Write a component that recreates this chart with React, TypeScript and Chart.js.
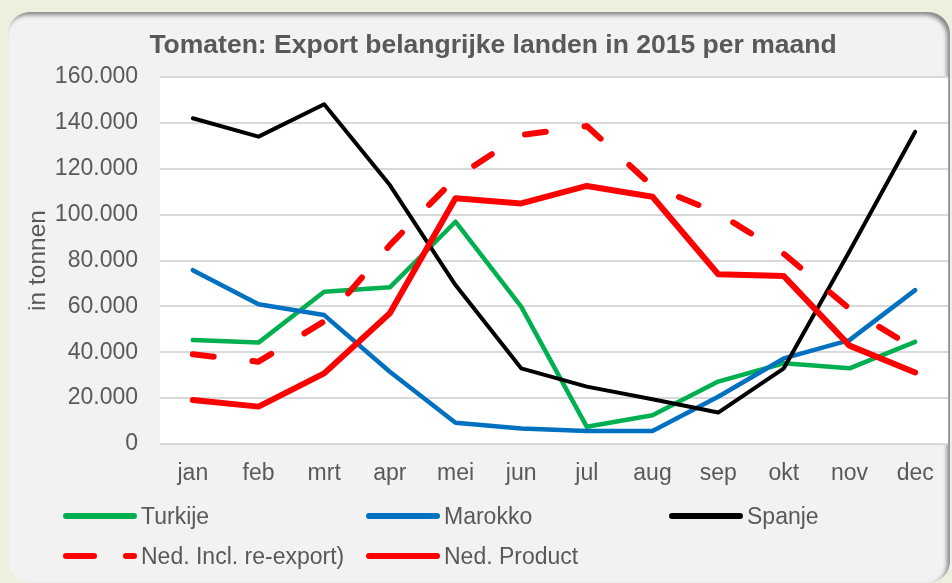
import React, { useEffect, useRef } from 'react';
import { Chart, registerables } from 'chart.js';

Chart.register(...registerables);

// ---- data ----
const months = ['jan', 'feb', 'mrt', 'apr', 'mei', 'jun', 'jul', 'aug', 'sep', 'okt', 'nov', 'dec'];
const turkije = [45300, 44200, 66400, 68300, 96900, 59900, 7500, 12500, 27200, 35200, 33000, 44500];
const marokko = [75800, 60900, 56200, 31500, 9300, 6800, 5700, 5700, 20600, 37300, 45300, 67100];
const spanje = [142000, 134000, 148100, 112900, 69300, 33000, 25000, 19500, 13700, 33000, 84000, 136100];
const nedInclReexport = [39100, 35900, 53500, 86700, 116000, 134700, 138600, 112400, 100700, 82900, 59000, 41500];
const nedProduct = [19200, 16300, 30800, 57000, 107100, 104900, 112500, 107800, 74000, 73200, 42900, 31200];
const seriesNames = ['Turkije', 'Marokko', 'Spanje', 'Ned. Incl. re-export)', 'Ned. Product'];
const yMin = 0;
const yMax = 160000;
const yStep = 20000;
const chartTitle = 'Tomaten: Export belangrijke landen in 2015 per maand';
const yAxisTitle = 'in tonnen';

const FONT = '"Liberation Sans", Arial, Helvetica, sans-serif';
const TEXT = '#595959';

const seriesData = [turkije, marokko, spanje, nedInclReexport, nedProduct];
const seriesStyle = [
  { color: '#00B050', width: 4.5, dash: [] as number[] },
  { color: '#0070C0', width: 4.5, dash: [] as number[] },
  { color: '#000000', width: 4, dash: [] as number[] },
  { color: '#FF0000', width: 6, dash: [21, 39] },
  { color: '#FF0000', width: 6, dash: [] as number[] },
];

const fmt = (v: number | string) => String(v).replace(/\B(?=(\d{3})+(?!\d))/g, '.');

const plotBg = {
  id: 'plotBg',
  beforeDraw(chart: any) {
    const { ctx, chartArea } = chart;
    if (!chartArea) return;
    ctx.save();
    ctx.fillStyle = '#FFFFFF';
    ctx.fillRect(chartArea.left, chartArea.top, chartArea.right - chartArea.left, chartArea.bottom - chartArea.top);
    ctx.restore();
  },
};

// legend layout (column x of line start, row y center)
const legendPos = [
  { x: 62, y: 516 },
  { x: 365, y: 516 },
  { x: 668, y: 516 },
  { x: 62, y: 556 },
  { x: 365, y: 556 },
];

const PAD_L = 38;

export default function App() {
  const ref = useRef<HTMLCanvasElement | null>(null);

  useEffect(() => {
    if (!ref.current) return;
    const chart = new Chart(ref.current, {
      type: 'line',
      data: {
        labels: months,
        datasets: seriesNames.map((name, i) => ({
          label: name,
          data: seriesData[i],
          borderColor: seriesStyle[i].color,
          backgroundColor: seriesStyle[i].color,
          borderWidth: seriesStyle[i].width,
          borderDash: seriesStyle[i].dash,
          borderCapStyle: 'round',
          borderJoinStyle: 'round',
          pointRadius: 0,
          pointHoverRadius: 0,
          tension: 0,
          fill: false,
          order: seriesNames.length - i,
        })),
      },
      options: {
        responsive: false,
        animation: false,
        events: [],
        layout: { padding: { left: PAD_L, right: 42, top: 0, bottom: 0 } },
        plugins: {
          legend: { display: false },
          tooltip: { enabled: false },
          title: {
            display: true,
            text: chartTitle,
            color: TEXT,
            font: { family: FONT, size: 26.5, weight: 'bold', lineHeight: 1.2 },
            padding: { top: 29.5, bottom: 15.7 },
          },
        },
        scales: {
          x: {
            offset: true,
            grid: { display: false, drawTicks: false },
            border: { display: false },
            ticks: {
              color: TEXT,
              font: { family: FONT, size: 23 },
              padding: 16,
              maxRotation: 0,
              autoSkip: false,
            },
            afterFit: (s: any) => {
              s.height = 139;
            },
          },
          y: {
            min: yMin,
            max: yMax,
            ticks: {
              stepSize: yStep,
              color: TEXT,
              font: { family: FONT, size: 23 },
              padding: 22,
              callback: (v: any) => fmt(v),
            },
            grid: { color: '#D9D9D9', lineWidth: 2, drawTicks: false },
            border: { display: false },
            title: {
              display: true,
              text: yAxisTitle,
              color: TEXT,
              font: { family: FONT, size: 24.5, lineHeight: 1.2 },
              padding: { top: 24 - PAD_L, bottom: 0 },
            },
            afterFit: (s: any) => {
              s.width = 160 - PAD_L;
            },
          },
        },
      } as any,
      plugins: [plotBg],
    });
    return () => chart.destroy();
  }, []);

  return (
    <div
      style={{
        position: 'fixed',
        left: 0,
        top: 0,
        width: 952,
        height: 583,
        overflow: 'hidden',
        background: '#EBF1DE',
        fontFamily: FONT,
      }}
    >
      <div
        style={{
          position: 'absolute',
          left: 8,
          top: 12,
          width: 942,
          height: 571,
          borderRadius: 22,
          background: '#F2F2F2',
          boxShadow: 'inset -3px 3px 4px rgba(0,0,0,0.45)',
        }}
      />
      <canvas
        ref={ref}
        width={990}
        height={583}
        style={{ position: 'absolute', left: 0, top: 0, width: 990, height: 583 }}
      />
      {seriesNames.map((name, i) => {
        const st = seriesStyle[i];
        const p = legendPos[i];
        return (
          <div
            key={name}
            style={{
              position: 'absolute',
              left: p.x,
              top: p.y - 14,
              height: 28,
              display: 'flex',
              alignItems: 'center',
              whiteSpace: 'nowrap',
            }}
          >
            <svg width={76} height={28} style={{ display: 'block' }}>
              <line
                x1={4}
                y1={14}
                x2={72}
                y2={14}
                stroke={st.color}
                strokeWidth={6}
                strokeLinecap="round"
                strokeDasharray={st.dash.length ? '28 32' : undefined}
              />
            </svg>
            <span style={{ fontSize: 23, lineHeight: '28px', color: TEXT, marginLeft: 3 }}>{name}</span>
          </div>
        );
      })}
    </div>
  );
}
